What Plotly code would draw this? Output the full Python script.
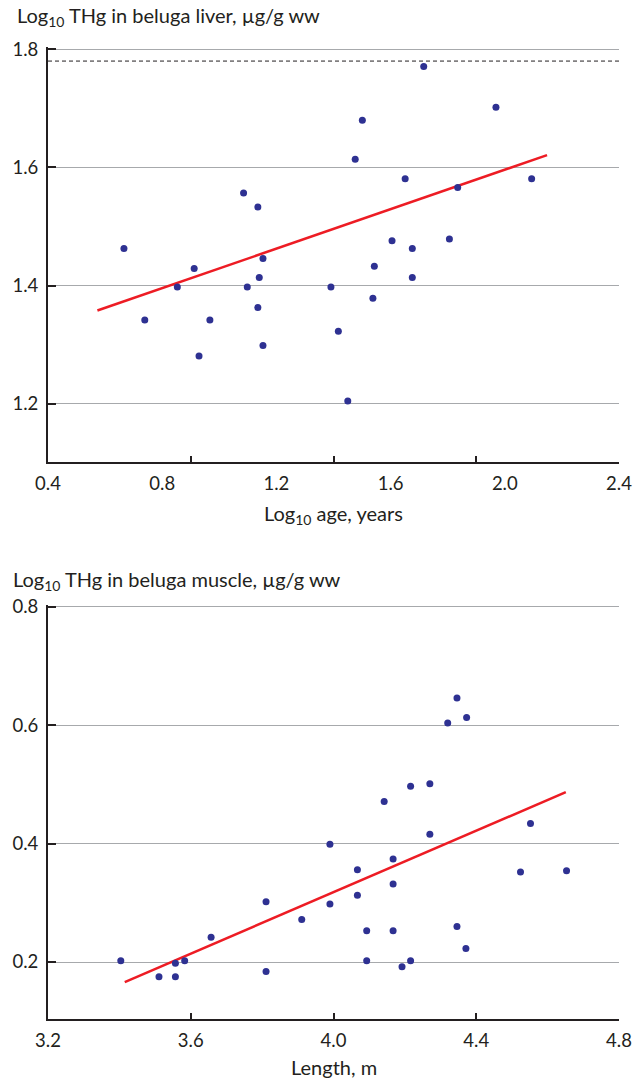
import plotly.graph_objects as go

# ---------------- data ----------------
liver_log_age = [0.666, 0.739, 0.853, 0.912, 0.929, 0.967, 1.085, 1.098, 1.135, 1.135,
                 1.140, 1.153, 1.153, 1.391, 1.417, 1.450, 1.476, 1.501, 1.538, 1.543,
                 1.605, 1.651, 1.676, 1.676, 1.716, 1.806, 1.835, 1.969, 2.094]
liver_log_thg = [1.463, 1.342, 1.398, 1.429, 1.281, 1.342, 1.557, 1.398, 1.533, 1.363,
                 1.414, 1.446, 1.299, 1.398, 1.323, 1.205, 1.614, 1.680, 1.379, 1.433,
                 1.476, 1.581, 1.463, 1.414, 1.771, 1.479, 1.566, 1.702, 1.581]
liver_fit_x = [0.573, 2.148]
liver_fit_y = [1.358, 1.621]
liver_threshold = 1.78

muscle_length = [3.404, 3.511, 3.557, 3.557, 3.583, 3.657, 3.811, 3.811, 3.911, 3.990,
                 3.990, 4.067, 4.067, 4.093, 4.093, 4.142, 4.167, 4.167, 4.167, 4.192,
                 4.216, 4.216, 4.270, 4.270, 4.320, 4.346, 4.346, 4.373, 4.371, 4.524,
                 4.552, 4.653]
muscle_log_thg = [0.202, 0.175, 0.175, 0.198, 0.202, 0.242, 0.302, 0.184, 0.272, 0.399,
                  0.298, 0.356, 0.313, 0.253, 0.202, 0.471, 0.374, 0.332, 0.253, 0.192,
                  0.497, 0.202, 0.501, 0.416, 0.604, 0.646, 0.260, 0.613, 0.223, 0.352,
                  0.434, 0.354]
muscle_fit_x = [3.415, 4.651]
muscle_fit_y = [0.166, 0.487]

top_x_ticklabels = [0.4, 0.8, 1.2, 1.6, 2.0, 2.4]
top_x_tickmarks = [0.4, 0.9, 1.4, 1.9, 2.4]
top_y_ticks = [1.2, 1.4, 1.6, 1.8]
bottom_x_ticks = [3.2, 3.6, 4.0, 4.4, 4.8]
bottom_y_ticks = [0.2, 0.4, 0.6, 0.8]

# ---------------- styling ----------------
FONT = "Lato"
DARK = "#231f20"
GRID = "#a7a9ac"
DOT = "#2e3192"
RED = "#ed1c24"
FS = 18.5
TFS = 20

fig = go.Figure()

fig.add_trace(go.Scatter(x=liver_fit_x, y=liver_fit_y, mode="lines",
                         line=dict(color=RED, width=2.5), xaxis="x", yaxis="y",
                         showlegend=False, hoverinfo="skip"))
fig.add_trace(go.Scatter(x=liver_log_age, y=liver_log_thg, mode="markers",
                         marker=dict(color=DOT, size=7), xaxis="x", yaxis="y",
                         showlegend=False))
fig.add_trace(go.Scatter(x=[], y=[], xaxis="x3", yaxis="y", showlegend=False))

fig.add_trace(go.Scatter(x=muscle_fit_x, y=muscle_fit_y, mode="lines",
                         line=dict(color=RED, width=2.5), xaxis="x2", yaxis="y2",
                         showlegend=False, hoverinfo="skip"))
fig.add_trace(go.Scatter(x=muscle_length, y=muscle_log_thg, mode="markers",
                         marker=dict(color=DOT, size=7), xaxis="x2", yaxis="y2",
                         showlegend=False))

fig.add_shape(type="line", xref="x domain", yref="y", x0=0, x1=1,
              y0=liver_threshold, y1=liver_threshold,
              line=dict(color=DARK, width=1, dash="4px,3px"), layer="below")

tickfont = dict(family=FONT, size=FS, color=DARK)
common_x = dict(showline=True, linecolor=DARK, linewidth=2, showgrid=False,
                zeroline=False, tickfont=tickfont, ticklabelstandoff=4)
common_y = dict(showline=True, linecolor=DARK, linewidth=2, showgrid=True,
                gridcolor=GRID, gridwidth=1.3, zeroline=False, tickfont=tickfont,
                ticks="inside", ticklen=8, tickwidth=2, tickcolor=DARK,
                tickformat=".1f", ticklabelstandoff=4)

fig.update_layout(
    width=644, height=1080,
    margin=dict(l=47, r=21, t=47, b=61),
    paper_bgcolor="white", plot_bgcolor="white",
    font=dict(family=FONT, size=FS, color=DARK),
    xaxis=dict(domain=[0, 1], anchor="y", range=[0.4, 2.4],
               tickvals=top_x_ticklabels, tickformat=".1f", ticks="", **common_x),
    xaxis3=dict(overlaying="x", anchor="y", range=[0.4, 2.4], tickvals=top_x_tickmarks,
                ticks="inside", ticklen=6, tickwidth=1.5, tickcolor=DARK,
                showticklabels=False, showgrid=False, zeroline=False, showline=False),
    yaxis=dict(domain=[0.5734, 1], anchor="x", range=[1.1024, 1.8038],
               tickvals=top_y_ticks, **common_y),
    xaxis2=dict(domain=[0, 0.4242], anchor="y2", range=[3.2, 4.8], tickvals=bottom_x_ticks,
                tickformat=".1f", ticks="inside", ticklen=6, tickwidth=1.5,
                tickcolor=DARK, **common_x),
    yaxis2=dict(domain=[0, 0.4263], anchor="x2", range=[0.1037, 0.8038],
                tickvals=bottom_y_ticks, **common_y),
)
fig.update_layout(xaxis2=dict(domain=[0, 1]))

ann_font = dict(family=FONT, size=TFS, color=DARK)
fig.add_annotation(text="Log<sub>10</sub> THg in beluga liver, µg/g ww",
                   xref="paper", yref="paper", x=-0.0573, y=1.031,
                   xanchor="left", yanchor="middle", showarrow=False, font=ann_font)
fig.add_annotation(text="Log<sub>10</sub> age, years",
                   xref="paper", yref="paper", x=0.5, y=0.5186,
                   xanchor="center", yanchor="middle", showarrow=False, font=ann_font)
fig.add_annotation(text="Log<sub>10</sub> THg in beluga muscle, µg/g ww",
                   xref="paper", yref="paper", x=-0.0642, y=0.4516,
                   xanchor="left", yanchor="middle", showarrow=False, font=ann_font)
fig.add_annotation(text="Length, m",
                   xref="paper", yref="paper", x=0.5, y=-0.0495,
                   xanchor="center", yanchor="middle", showarrow=False, font=ann_font)

fig.write_html("out.html")
